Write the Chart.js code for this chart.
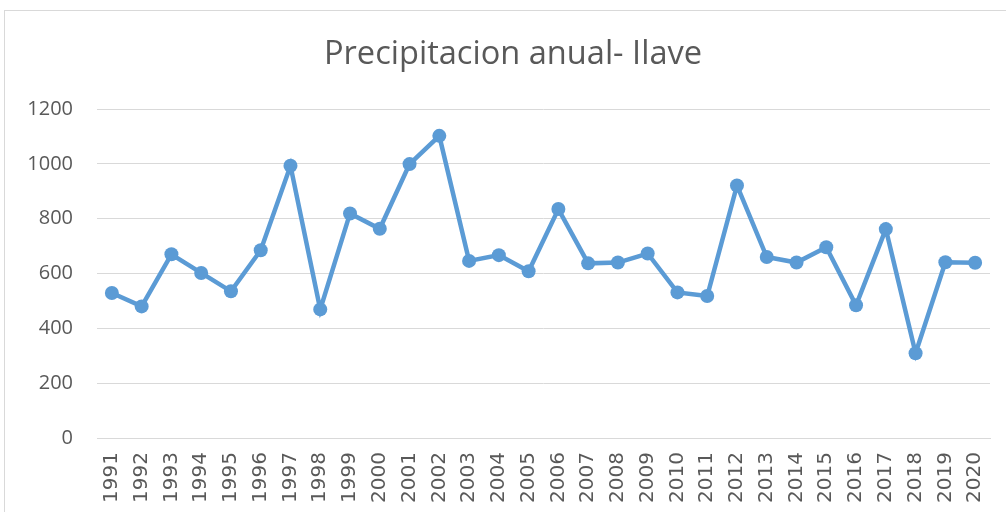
<!DOCTYPE html>
<html>
<head>
<meta charset="utf-8">
<script src="https://cdn.jsdelivr.net/npm/chart.js@4/dist/chart.umd.min.js"></script>
<style>
  html, body { margin: 0; padding: 0; background: #fff; }
  #frame { position: absolute; left: 4px; top: 10px; width: 1010px; height: 520px; border: 1px solid #d9d9d9; box-sizing: border-box; }
  #wrap { position: absolute; left: 0; top: 0; width: 1006px; height: 512px; }
</style>
</head>
<body>
<div id="frame"></div>
<div id="wrap"><canvas id="c" width="1006" height="512"></canvas></div>
<script>
const title = "Precipitacion anual- Ilave";
const years = ["1991","1992","1993","1994","1995","1996","1997","1998","1999","2000","2001","2002","2003","2004","2005","2006","2007","2008","2009","2010","2011","2012","2013","2014","2015","2016","2017","2018","2019","2020"];
const precipitation = [529,480,670,602,535,685,993,469,819,763,999,1102,646,667,608,835,637,640,673,531,518,921,660,640,696,484,762,309,641,639];
const yTicks = [0,200,400,600,800,1000,1200];

const textColor = "#595959";
const gridColor = "#d9d9d9";
const lineColor = "#5b9bd5";

// Draws the chart title centred over the whole frame (as in the reference)
const frameTitle = {
  id: "frameTitle",
  afterDraw(chart) {
    const ctx = chart.ctx;
    ctx.save();
    ctx.fillStyle = textColor;
    ctx.font = "normal 32.6px 'Open Sans'";
    ctx.textAlign = "center";
    ctx.textBaseline = "alphabetic";
    ctx.fillText(title, 513, 64);
    ctx.restore();
  }
};

new Chart(document.getElementById("c"), {
  type: "line",
  data: {
    labels: years,
    datasets: [{
      data: precipitation,
      borderColor: lineColor,
      backgroundColor: lineColor,
      borderWidth: 4.5,
      pointRadius: 7,
      pointHoverRadius: 7,
      pointBorderWidth: 0,
      tension: 0
    }]
  },
  plugins: [frameTitle],
  options: {
    responsive: false,
    animation: false,
    events: [],
    layout: { padding: { left: 0, right: 16, top: 109, bottom: 0 } },
    plugins: {
      legend: { display: false },
      tooltip: { enabled: false },
      title: { display: false }
    },
    scales: {
      x: {
        offset: true,
        afterFit: (axis) => { axis.height = 74; axis.paddingLeft = 0; axis.paddingRight = 0; },
        grid: { display: false, drawTicks: false },
        border: { display: true, color: gridColor, width: 1 },
        ticks: {
          color: textColor,
          font: { family: "DejaVu Sans", size: 20 },
          maxRotation: 90,
          minRotation: 90,
          autoSkip: false,
          padding: 14
        }
      },
      y: {
        min: 0,
        max: 1200,
        afterBuildTicks: (axis) => { axis.ticks = yTicks.map(v => ({ value: v })); },
        afterFit: (axis) => { axis.width = 97; },
        grid: { color: gridColor, lineWidth: 1, drawTicks: false },
        border: { display: false },
        ticks: {
          color: textColor,
          font: { family: "Open Sans", size: 20 },
          padding: 24,
          callback: (v) => String(v)
        }
      }
    }
  }
});
</script>
</body>
</html>
